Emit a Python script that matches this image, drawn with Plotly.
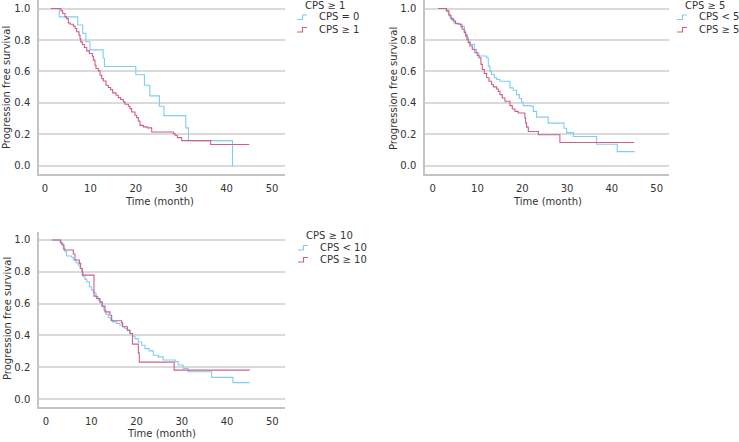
import plotly.graph_objects as go

W, H = 739, 442

# ---------------- data ----------------
p1_t_cps0 = [1.3, 3.15, 7.2, 8.3, 9.0, 9.9, 12.8, 13.1, 20.0, 21.9, 23.1, 25.2, 26.2, 31.0, 31.6, 41.3]
p1_s_cps0 = [1.0, 0.947, 0.895, 0.842, 0.789, 0.737, 0.684, 0.632, 0.579, 0.513, 0.445, 0.379, 0.320, 0.242, 0.161, 0.0]

p1_t_cps1 = [1.3, 3.52, 3.89, 4.41, 4.77, 5.14, 5.51, 6.24, 6.61, 6.97, 7.49, 7.71, 7.86, 8.22, 8.66, 9.18,
             9.76, 10.43, 10.65, 11.01, 11.23, 11.75, 12.12, 12.48, 12.85, 13.44, 13.95, 14.46, 14.9, 15.64,
             16.15, 16.67, 17.25, 17.62, 18.36, 18.72, 19.09, 19.82, 20.19, 20.56, 20.92, 21.66, 22.54, 23.5,
             28.27, 28.63, 29.15, 30.1, 36.5, 45.0]
p1_s_cps1 = [1.0, 0.985, 0.968, 0.947, 0.936, 0.909, 0.900, 0.888, 0.873, 0.852, 0.831, 0.809, 0.788, 0.771,
             0.752, 0.731, 0.714, 0.697, 0.672, 0.640, 0.619, 0.604, 0.576, 0.555, 0.540, 0.513, 0.498, 0.485,
             0.464, 0.449, 0.434, 0.422, 0.407, 0.392, 0.379, 0.364, 0.343, 0.322, 0.307, 0.286, 0.258, 0.248,
             0.242, 0.216, 0.206, 0.195, 0.180, 0.161, 0.136, 0.136]

p2_t_lt5 = [1.25, 2.97, 3.49, 3.86, 4.23, 4.83, 6.09, 6.61, 7.06, 7.36, 7.73, 7.95, 8.33, 9.29, 9.81, 10.33,
            12.05, 12.42, 12.79, 13.16, 13.76, 14.28, 15.02, 17.26, 18.0, 18.74, 19.34, 19.86, 20.23, 21.9,
            22.47, 23.2, 25.8, 29.3, 29.9, 31.4, 36.6, 41.2, 45.1]
p2_s_lt5 = [1.0, 0.985, 0.964, 0.943, 0.928, 0.906, 0.900, 0.889, 0.857, 0.836, 0.815, 0.794, 0.772, 0.740,
            0.719, 0.698, 0.687, 0.634, 0.602, 0.581, 0.560, 0.549, 0.538, 0.496, 0.481, 0.453, 0.428, 0.404,
            0.383, 0.379, 0.347, 0.310, 0.272, 0.240, 0.212, 0.187, 0.138, 0.091, 0.091]

p2_t_ge5 = [1.25, 3.12, 3.64, 4.09, 4.61, 5.13, 5.72, 6.32, 6.61, 7.06, 7.36, 7.66, 7.95, 8.33, 8.85, 9.44,
            9.96, 10.33, 10.78, 11.08, 11.53, 12.05, 12.57, 13.16, 13.54, 14.28, 14.65, 15.02, 15.54, 16.14,
            17.26, 17.78, 18.37, 19.11, 20.6, 20.75, 20.97, 21.35, 23.6, 28.4, 45.0]
p2_s_ge5 = [1.0, 0.985, 0.957, 0.936, 0.921, 0.904, 0.900, 0.885, 0.868, 0.847, 0.826, 0.804, 0.783, 0.762,
            0.740, 0.719, 0.702, 0.687, 0.645, 0.613, 0.587, 0.560, 0.538, 0.517, 0.502, 0.489, 0.474, 0.453,
            0.432, 0.411, 0.383, 0.362, 0.347, 0.336, 0.304, 0.272, 0.247, 0.219, 0.198, 0.149, 0.149]

p3_t_lt10 = [1.25, 3.09, 3.46, 3.83, 4.19, 4.56, 5.67, 6.03, 6.62, 7.14, 7.51, 7.87, 8.24, 8.61, 8.98, 9.57,
             10.08, 10.45, 11.04, 11.55, 11.92, 12.29, 12.8, 13.25, 13.76, 14.28, 14.72, 15.6, 16.34, 16.93,
             17.44, 17.96, 18.54, 19.13, 19.65, 20.38, 21.12, 21.86, 22.81, 23.7, 24.8, 25.9, 28.5, 29.2,
             30.3, 31.4, 36.6, 41.3, 45.0]
p3_s_lt10 = [1.0, 0.989, 0.968, 0.947, 0.926, 0.899, 0.891, 0.874, 0.857, 0.842, 0.821, 0.800, 0.769, 0.752,
             0.737, 0.706, 0.685, 0.668, 0.643, 0.622, 0.605, 0.580, 0.559, 0.534, 0.513, 0.496, 0.485, 0.475,
             0.464, 0.454, 0.443, 0.429, 0.412, 0.395, 0.380, 0.359, 0.338, 0.317, 0.303, 0.275, 0.265, 0.245,
             0.235, 0.214, 0.193, 0.172, 0.136, 0.103, 0.103]

p3_t_ge10 = [1.25, 3.24, 3.68, 3.97, 6.03, 6.4, 7.36, 7.65, 8.02, 10.6, 11.19, 11.92, 12.43, 13.03, 14.13,
             14.5, 16.7, 16.93, 17.96, 18.54, 19.1, 20.4, 20.6, 28.3, 45.0]
p3_s_ge10 = [1.0, 0.979, 0.968, 0.937, 0.912, 0.874, 0.853, 0.821, 0.779, 0.647, 0.632, 0.611, 0.584, 0.548,
             0.527, 0.492, 0.479, 0.454, 0.433, 0.412, 0.345, 0.290, 0.232, 0.182, 0.182]

x_ticks = [0, 10, 20, 30, 40, 50]
y_ticks = [0.0, 0.2, 0.4, 0.6, 0.8, 1.0]

legend_titles = ["CPS ≥ 1", "CPS ≥ 5", "CPS ≥ 10"]
legend_low = ["CPS = 0", "CPS &lt; 5", "CPS &lt; 10"]
legend_high = ["CPS ≥ 1", "CPS ≥ 5", "CPS ≥ 10"]
x_title = "Time (month)"
y_title = "Progression free survival"

# ---------------- styling ----------------
BLUE = "#7fcdf2"
RED = "#cf5f88"
FONT = "DejaVu Sans"
TXT = "#333333"
GRID = "#dadada"
AXLINE = "#c4c4c4"

def px(x):
    return x / W

def py(y):
    return 1 - y / H

fig = go.Figure()

series = [
    (p1_t_cps0, p1_s_cps0, BLUE, "x", "y"),
    (p1_t_cps1, p1_s_cps1, RED, "x", "y"),
    (p2_t_lt5, p2_s_lt5, BLUE, "x2", "y2"),
    (p2_t_ge5, p2_s_ge5, RED, "x2", "y2"),
    (p3_t_lt10, p3_s_lt10, BLUE, "x3", "y3"),
    (p3_t_ge10, p3_s_ge10, RED, "x3", "y3"),
]
for t, s, c, xa, ya in series:
    fig.add_trace(go.Scatter(x=t, y=s, mode="lines", line=dict(color=c, width=1.1, shape="hv"),
                             xaxis=xa, yaxis=ya, showlegend=False, hoverinfo="skip"))

# panel frames in pixels: (left, right, top, bottom, x-range, y-range)
panels = [
    (39, 285, 0, 174, [-1.32, 52.86], [-0.051, 1.054]),
    (425, 669, 0, 174, [-1.7, 52.75], [-0.051, 1.054]),
    (39, 285, 232, 407, [-1.55, 52.8], [-0.05, 1.05]),
]

axis_common_x = dict(tickvals=x_ticks, showgrid=False, zeroline=False, showline=True, linecolor=AXLINE,
                     linewidth=1.5, ticks="", ticklabelstandoff=4,
                     tickfont=dict(family=FONT, size=10, color=TXT))
axis_common_y = dict(tickvals=y_ticks, tickformat=".1f", showgrid=True, gridcolor=GRID, gridwidth=1.5,
                     zeroline=False, showline=True, linecolor=AXLINE, linewidth=1.5, ticks="",
                     ticklabelstandoff=5, tickfont=dict(family=FONT, size=10, color=TXT))

layout = {}
for i, (l, r, t, b, xr, yr) in enumerate(panels):
    sfx = "" if i == 0 else str(i + 1)
    layout["xaxis" + sfx] = dict(domain=[px(l), px(r)], range=xr, anchor="y" + sfx, **axis_common_x)
    layout["yaxis" + sfx] = dict(domain=[py(b), py(t)], range=yr, anchor="x" + sfx, **axis_common_y)

fig.update_layout(**layout)

ann = []
shapes = []
# axis titles
x_title_pos = [(159, 202), (547, 202), (161, 433)]
y_title_pos = [(7, 88), (394, 89), (7, 319)]
for (xx, yy) in x_title_pos:
    ann.append(dict(x=px(xx), y=py(yy), xref="paper", yref="paper", text=x_title, showarrow=False,
                    xanchor="center", yanchor="middle", font=dict(family=FONT, size=10, color=TXT)))
for (xx, yy) in y_title_pos:
    ann.append(dict(x=px(xx), y=py(yy), xref="paper", yref="paper", text=y_title, showarrow=False,
                    textangle=-90, xanchor="center", yanchor="middle",
                    font=dict(family=FONT, size=10, color=TXT)))

# legends: (title left x, title y, item1 y, item2 y)
leg_pos = [(303, 6, 17, 29.5), (683, 6, 17, 29.5), (304, 235, 247.5, 259.5)]
for i, (lx, ty, y1, y2) in enumerate(leg_pos):
    ann.append(dict(x=px(lx), y=py(ty), xref="paper", yref="paper", text=legend_titles[i], showarrow=False,
                    xanchor="left", yanchor="middle", font=dict(family=FONT, size=10, color=TXT)))
    for txt, yy, col in [(legend_low[i], y1, BLUE), (legend_high[i], y2, RED)]:
        ann.append(dict(x=px(lx + 14), y=py(yy), xref="paper", yref="paper", text=txt, showarrow=False,
                        xanchor="left", yanchor="middle", font=dict(family=FONT, size=10, color=TXT)))
        x0, x1, x2 = px(lx - 6), px(lx - 0.5), px(lx + 4)
        yl, yh = py(yy + 2.5), py(yy - 2)
        shapes.append(dict(type="path", xref="paper", yref="paper",
                           path=f"M {x0},{yl} L {x1},{yl} L {x1},{yh} L {x2},{yh}",
                           line=dict(color=col, width=1.1)))

fig.update_layout(annotations=ann, shapes=shapes, width=W, height=H,
                  margin=dict(l=0, r=0, t=0, b=0), paper_bgcolor="white", plot_bgcolor="white",
                  showlegend=False)

fig.write_html("out.html", config={"displayModeBar": False},
               post_script="document.body.style.margin='0';document.body.style.padding='0';")
